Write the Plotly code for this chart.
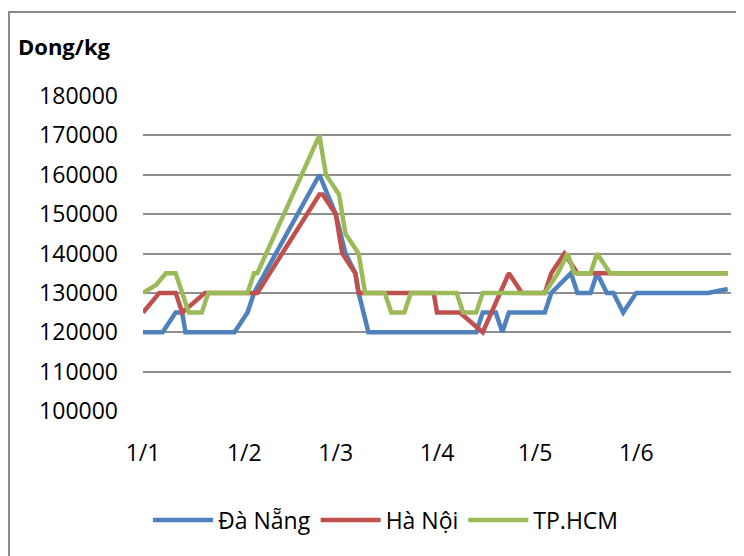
import plotly.graph_objects as go

# ---- data ----
dn_dates = ["2013-01-01", "2013-01-07", "2013-01-11", "2013-01-13", "2013-01-14", "2013-01-29",
            "2013-02-02", "2013-02-04", "2013-02-24", "2013-03-01", "2013-03-04", "2013-03-07",
            "2013-03-08", "2013-03-11", "2013-04-13", "2013-04-15", "2013-04-19", "2013-04-21",
            "2013-04-23", "2013-05-04", "2013-05-06", "2013-05-12", "2013-05-14", "2013-05-18",
            "2013-05-20", "2013-05-23", "2013-05-25", "2013-05-28", "2013-06-01", "2013-06-23",
            "2013-06-29"]
dn_values = [120000, 120000, 125000, 125000, 120000, 120000,
             125000, 130000, 160000, 150000, 140000, 135000,
             130000, 120000, 120000, 125000, 125000, 120000,
             125000, 125000, 130000, 135000, 130000, 130000,
             135000, 130000, 130000, 125000, 130000, 130000,
             131000]

hn_dates = ["2013-01-01", "2013-01-06", "2013-01-11", "2013-01-13", "2013-01-20", "2013-02-05",
            "2013-02-24", "2013-02-25", "2013-03-01", "2013-03-03", "2013-03-07", "2013-03-08",
            "2013-03-31", "2013-04-01", "2013-04-08", "2013-04-15", "2013-04-23", "2013-04-27",
            "2013-05-04", "2013-05-06", "2013-05-10", "2013-05-14", "2013-06-29"]
hn_values = [125000, 130000, 130000, 125000, 130000, 130000,
             155000, 155000, 150000, 140000, 135000, 130000,
             130000, 125000, 125000, 120000, 135000, 130000,
             130000, 135000, 140000, 135000, 135000]

hcm_dates = ["2013-01-01", "2013-01-05", "2013-01-08", "2013-01-11", "2013-01-15", "2013-01-19",
             "2013-01-21", "2013-02-02", "2013-02-04", "2013-02-05", "2013-02-24", "2013-02-26",
             "2013-03-02", "2013-03-04", "2013-03-08", "2013-03-10", "2013-03-16", "2013-03-18",
             "2013-03-22", "2013-03-24", "2013-04-07", "2013-04-09", "2013-04-13", "2013-04-15",
             "2013-05-04", "2013-05-08", "2013-05-11", "2013-05-13", "2013-05-18", "2013-05-20",
             "2013-05-24", "2013-06-29"]
hcm_values = [130000, 132000, 135000, 135000, 125000, 125000,
              130000, 130000, 135000, 135000, 170000, 160000,
              155000, 145000, 140000, 130000, 130000, 125000,
              125000, 130000, 130000, 125000, 125000, 130000,
              130000, 135000, 140000, 135000, 135000, 140000,
              135000, 135000]

series_names = ["Đà Nẵng", "Hà Nội", "TP.HCM"]
y_title = "Dong/kg"
x_range = ["2013-01-01", "2013-06-30"]
y_range = [100000, 180000]

colors = ["#4F81BD", "#C0504D", "#9BBB59"]
FONT = "Open Sans"

fig = go.Figure()
for name, xs, ys, c in zip(series_names, [dn_dates, hn_dates, hcm_dates],
                           [dn_values, hn_values, hcm_values], colors):
    fig.add_trace(go.Scatter(x=xs, y=ys, name=name, mode="lines",
                             line=dict(color=c, width=4.5)))

# page has an 8px body margin; figure sized to fit inside the window
OFF = 8
W, H = 736, 548
L, R, T, B = 143 - OFF, 13, 96 - OFF, 145
pw, ph = W - L - R, H - T - B

def px(x):  # page pixel -> paper x
    return (x - OFF - L) / pw

def py(y):  # page pixel -> paper y
    return (H - B - (y - OFF)) / ph

fig.update_layout(
    width=W, height=H,
    margin=dict(l=L, r=R, t=T, b=B, pad=0),
    paper_bgcolor="white", plot_bgcolor="white",
    font=dict(family=FONT, size=23, color="#000000"),
    showlegend=True,
    legend=dict(orientation="h", x=px(386), xanchor="center", y=py(520), yanchor="middle",
                font=dict(family=FONT, size=23, color="#000000"),
                itemwidth=60, bgcolor="rgba(0,0,0,0)"),
    xaxis=dict(type="date", range=x_range, dtick="M1", tick0="2013-01-01",
               tickformat="%-d/%-m", showgrid=False, zeroline=False, showline=False,
               ticks="", ticklabelstandoff=26,
               tickfont=dict(family=FONT, size=23, color="#000000")),
    yaxis=dict(range=y_range, dtick=10000, tick0=100000, showgrid=True,
               gridcolor="#8E8E8E", gridwidth=2, zeroline=False, showline=False,
               ticks="", ticklabelstandoff=24, tickformat="d",
               tickfont=dict(family=FONT, size=23, color="#000000")),
    annotations=[dict(text="<b>" + y_title + "</b>", xref="paper", yref="paper",
                      x=px(16), y=py(46), xanchor="left", yanchor="middle",
                      showarrow=False, font=dict(family=FONT, size=22, color="#000000"))],
    shapes=[dict(type="rect", xref="paper", yref="paper",
                 x0=px(OFF + 1), x1=px(800), y0=py(620), y1=py(OFF + 4),
                 line=dict(color="#8A8A8A", width=2), layer="below")],
)

fig.write_html("out.html")
